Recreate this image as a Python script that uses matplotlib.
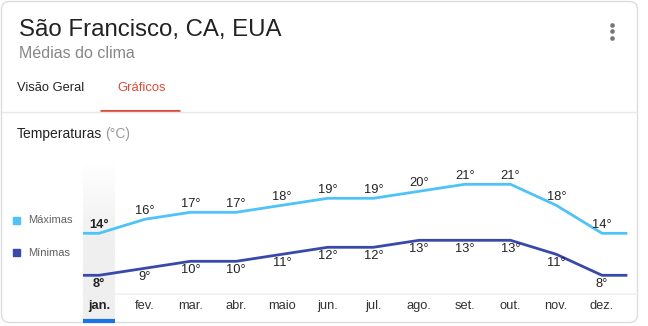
import matplotlib.pyplot as plt
from matplotlib.colors import LinearSegmentedColormap
from matplotlib.patches import FancyBboxPatch, Rectangle
import numpy as np

plt.rcParams['font.family'] = ['Liberation Sans', 'DejaVu Sans']

# monthly climate averages, Sao Francisco
months = ['jan.', 'fev.', 'mar.', 'abr.', 'maio', 'jun.',
          'jul.', 'ago.', 'set.', 'out.', 'nov.', 'dez.']
t_max = [14, 16, 17, 17, 18, 19, 19, 20, 21, 21, 18, 14]
t_min = [8, 9, 10, 10, 11, 12, 12, 13, 13, 13, 11, 8]

c_max = '#4fc3f7'
c_min = '#3949ab'
txt = '#222222'

W, H = 648, 326
fig = plt.figure(figsize=(W / 100, H / 100), dpi=100)

# pixel-space canvas for the card chrome
bg = fig.add_axes([0, 0, 1, 1])
bg.axis('off')

card = FancyBboxPatch((1.5, 1.5), 636, 321, boxstyle='round,pad=0,rounding_size=8',
                      facecolor='white', edgecolor='#dadce0', lw=1.0)
bg.add_patch(card)

bg.text(19, 30, 'São Francisco, CA, EUA', fontsize=17.3, color=txt, va='center')
bg.text(19, 54, 'Médias do clima', fontsize=11.5, color='#878787', va='center')
for dy in (-6.5, 0, 6.5):
    bg.plot(612, 31 + dy, 'o', ms=3.3, color='#757575', mec='none')

bg.text(17, 88, 'Visão Geral', fontsize=9.3, color=txt, va='center')
bg.text(117, 88, 'Gráficos', fontsize=9.4, color='#dd4b39', va='center')
bg.plot([100, 180], [110.5, 110.5], color='#dd4b39', lw=2.2, solid_capstyle='butt')
bg.plot([2, 637], [112, 112], color='#e8e8e8', lw=1)

bg.text(17, 134, 'Temperaturas', fontsize=10, color=txt, va='center')
bg.text(105, 134, '(°C)', fontsize=10, color='#999999', va='center')

# legend
bg.add_patch(Rectangle((13, 216.5), 7, 7, color=c_max))
bg.add_patch(Rectangle((13, 249), 7, 7, color=c_min))
bg.text(28, 220, 'Máximas', fontsize=8, color='#606060', va='center')
bg.text(28, 252.5, 'Mínimas', fontsize=8, color='#606060', va='center')

# highlighted january column with vertical fade
fade = LinearSegmentedColormap.from_list('fade', ['#ffffff', '#efefef'])
grad = np.linspace(0, 1, 100)[:, None]
bg.imshow(grad, extent=(83, 115, 321, 162), cmap=fade, aspect='auto', zorder=1,
          vmin=0, vmax=0.5)
bg.set_xlim(0, W)
bg.set_ylim(H, 0)
bg.plot([83, 638], [294, 294], color='#f0f0f0', lw=1.2, zorder=2)
bg.plot([83, 115], [321, 321], color='#1a73e8', lw=3, solid_capstyle='butt', zorder=3)

# chart axes: months on x, degrees on y
step = (602 - 99) / 11
deg = 7.0
x0, x1, y0, y1 = 83, 638, 163, 294
ax = fig.add_axes([x0 / W, 1 - y1 / H, (x1 - x0) / W, (y1 - y0) / H])
ax.set_xlim(-(99 - x0) / step, 11 + (x1 - 602) / step)
ax.set_ylim(14 - (y1 - 233.3) / deg, 14 + (233.3 - y0) / deg)
ax.axis('off')
ax.patch.set_alpha(0)

idx = np.arange(len(months))
ext_x = np.r_[-(99 - x0) / step, idx, 11 + 24 / step]
ax.plot(ext_x, np.r_[t_max[0], t_max, t_max[-1]], color=c_max, lw=2)
ax.plot(ext_x, np.r_[t_min[0], t_min, t_min[-1]], color=c_min, lw=2)

for i, m in enumerate(months):
    w = 'bold' if i == 0 else 'normal'
    ax.annotate(f'{t_max[i]}°', (i, t_max[i]), xytext=(0, 6.3), textcoords='offset points',
                ha='center', va='center', fontsize=9.3, color=txt, fontweight=w)
    ax.annotate(f'{t_min[i]}°', (i, t_min[i]), xytext=(0, -6.2), textcoords='offset points',
                ha='center', va='center', fontsize=9.3, color=txt, fontweight=w)
    ax.annotate(m, (i, 0), xycoords=('data', 'axes fraction'), xytext=(0, -8.8),
                textcoords='offset points', ha='center', va='center', fontsize=9.3,
                color='#333333' if i else txt, fontweight=w, annotation_clip=False)

fig.savefig('out.png', dpi=100)
